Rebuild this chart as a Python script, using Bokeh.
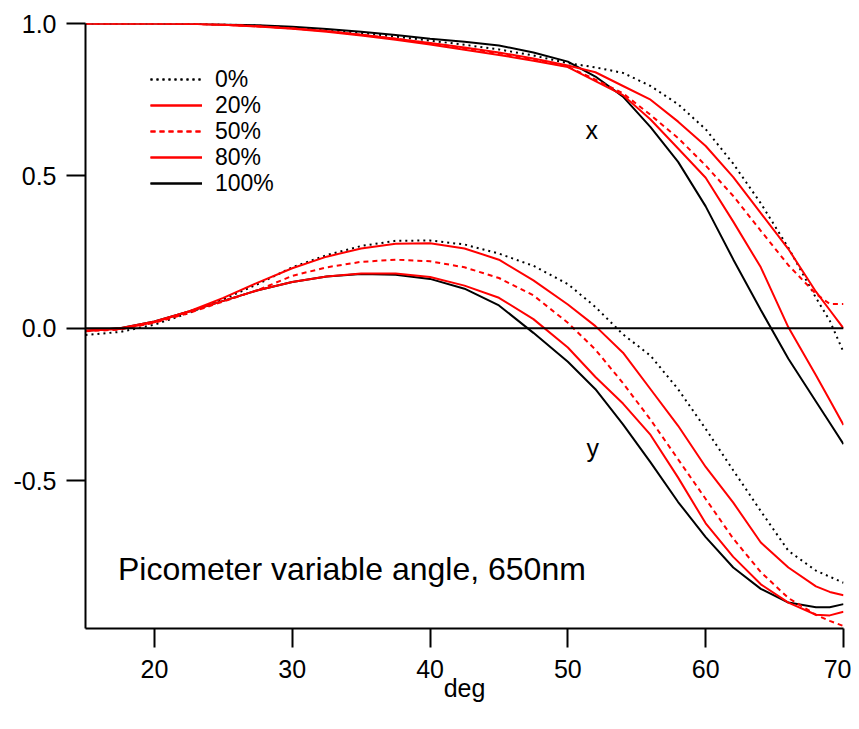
from bokeh.plotting import figure
from bokeh.models import Legend, LegendItem, Span, Label, FixedTicker, Range1d, PrintfTickFormatter
from bokeh.embed import file_html
from bokeh.resources import INLINE

# ---- data -------------------------------------------------------------
deg = [15, 17.5, 20, 22.5, 25, 27.5, 30, 32.5, 35, 37.5, 40, 42.5, 45, 47.5,
       50, 52, 54, 56, 58, 60, 62, 64, 66, 68, 69, 70]

labels = ["0%", "20%", "50%", "80%", "100%"]

# x component
x_0 = [1.0, 1.0, 1.0, 0.999, 0.997, 0.993, 0.987, 0.979, 0.969, 0.957, 0.944, 0.93, 0.915, 0.895,
       0.87, 0.856, 0.838, 0.795, 0.735, 0.653, 0.54, 0.41, 0.264, 0.10, 0.025, -0.078]
x_20 = [1.0, 1.0, 1.0, 0.999, 0.996, 0.991, 0.984, 0.975, 0.963, 0.95, 0.936, 0.921, 0.905, 0.885,
        0.862, 0.84, 0.795, 0.75, 0.678, 0.598, 0.496, 0.378, 0.26, 0.12, 0.06, 0.0]
x_50 = [1.0, 1.0, 1.0, 0.999, 0.996, 0.991, 0.984, 0.975, 0.963, 0.95, 0.935, 0.919, 0.902, 0.882,
        0.858, 0.816, 0.771, 0.70, 0.624, 0.534, 0.434, 0.32, 0.207, 0.113, 0.08, 0.08]
x_80 = [1.0, 1.0, 1.0, 0.999, 0.996, 0.99, 0.983, 0.973, 0.961, 0.947, 0.931, 0.914, 0.897, 0.878,
        0.857, 0.811, 0.765, 0.685, 0.59, 0.494, 0.35, 0.2, 0.003, -0.154, -0.235, -0.317]
x_100 = [1.0, 1.0, 1.0, 0.999, 0.997, 0.994, 0.989, 0.982, 0.973, 0.962, 0.95, 0.94, 0.928, 0.905,
         0.875, 0.826, 0.76, 0.66, 0.546, 0.40, 0.226, 0.06, -0.1, -0.24, -0.31, -0.38]

# y component
y_0 = [-0.022, -0.012, 0.012, 0.05, 0.095, 0.145, 0.2, 0.24, 0.27, 0.287, 0.288, 0.275, 0.245, 0.205,
       0.145, 0.07, -0.02, -0.09, -0.2, -0.33, -0.466, -0.6, -0.73, -0.795, -0.815, -0.835]
y_20 = [-0.008, -0.002, 0.02, 0.055, 0.1, 0.15, 0.197, 0.235, 0.262, 0.277, 0.279, 0.262, 0.225, 0.157,
        0.078, 0.007, -0.08, -0.2, -0.32, -0.455, -0.572, -0.703, -0.785, -0.847, -0.865, -0.876]
y_50 = [-0.01, -0.004, 0.018, 0.05, 0.088, 0.125, 0.172, 0.2, 0.218, 0.225, 0.22, 0.2, 0.165, 0.108,
        0.018, -0.07, -0.18, -0.3, -0.43, -0.56, -0.69, -0.8, -0.885, -0.94, -0.96, -0.977]
y_80 = [-0.008, 0.0, 0.022, 0.055, 0.09, 0.125, 0.152, 0.17, 0.18, 0.18, 0.168, 0.14, 0.1, 0.03,
        -0.063, -0.16, -0.247, -0.35, -0.49, -0.64, -0.75, -0.84, -0.9, -0.94, -0.942, -0.93]
y_100 = [-0.008, 0.0, 0.022, 0.055, 0.09, 0.125, 0.152, 0.17, 0.178, 0.176, 0.162, 0.13, 0.075, -0.015,
         -0.11, -0.2, -0.315, -0.44, -0.57, -0.685, -0.785, -0.855, -0.9, -0.915, -0.915, -0.905]

x_ticks = [20, 30, 40, 50, 60, 70]
y_ticks = [-0.5, 0.0, 0.5, 1.0]

# ---- figure -----------------------------------------------------------
FONT = "Liberation Sans"

p = figure(width=851, height=728, x_range=Range1d(15, 70), y_range=Range1d(-0.985, 1.0),
           output_backend="svg", toolbar_location=None,
           min_border_left=85, min_border_right=8, min_border_top=23, min_border_bottom=100)
p.xgrid.visible = False
p.ygrid.visible = False
p.outline_line_color = None

for ax in (p.xaxis[0], p.yaxis[0]):
    ax.axis_line_width = 2
    ax.axis_line_color = "black"
    ax.major_tick_line_width = 2
    ax.major_tick_line_color = "black"
    ax.major_tick_out = 19
    ax.major_tick_in = 0
    ax.minor_tick_out = 0
    ax.minor_tick_in = 0
    ax.major_label_text_font = FONT
    ax.major_label_text_font_size = "25px"
    ax.major_label_text_color = "black"

p.xaxis.ticker = FixedTicker(ticks=x_ticks)
p.yaxis.ticker = FixedTicker(ticks=y_ticks)
p.yaxis.formatter = PrintfTickFormatter(format="%.1f")
p.yaxis.major_label_standoff = 10
p.xaxis.major_label_standoff = 12
p.xaxis.axis_label = "deg"
p.xaxis.axis_label_text_font = FONT
p.xaxis.axis_label_text_font_size = "25px"
p.xaxis.axis_label_text_font_style = "normal"
p.xaxis.axis_label_text_color = "black"
p.xaxis.axis_label_standoff = -7

p.add_layout(Span(location=0, dimension="width", line_color="black", line_width=2))

styles = [
    dict(line_color="black", line_dash="2 4"),
    dict(line_color="#ff0000", line_dash="solid"),
    dict(line_color="#ff0000", line_dash="5 4"),
    dict(line_color="#ff0000", line_dash="solid"),
    dict(line_color="black", line_dash="solid"),
]
xs = [x_0, x_20, x_50, x_80, x_100]
ys = [y_0, y_20, y_50, y_80, y_100]

rends = {}
for i in [0, 4, 3, 2, 1]:
    rx = p.line(deg, xs[i], line_width=2, **styles[i])
    ry = p.line(deg, ys[i], line_width=2, **styles[i])
    rends[i] = [rx, ry]

# one single-row legend per entry, stacked
row_offsets = [534, 508, 482, 456, 430]
for i in range(5):
    lg = Legend(items=[LegendItem(label=labels[i], renderers=rends[i])],
                location=(65, row_offsets[i]), border_line_color=None,
                background_fill_alpha=0, padding=0, margin=0, spacing=0,
                glyph_width=52, glyph_height=30, label_height=30, label_standoff=13,
                label_text_font=FONT, label_text_font_size="23px", label_text_color="black")
    p.add_layout(lg)

p.add_layout(Label(x=51.74, y=0.65, text="x", text_font=FONT, text_font_size="25px",
                   text_align="center", text_baseline="alphabetic", text_color="black"))
p.add_layout(Label(x=51.8, y=-0.392, text="y", text_font=FONT, text_font_size="25px",
                   text_align="center", text_baseline="alphabetic", text_color="black"))
p.add_layout(Label(x=17.36, y=-0.789, text="Picometer variable angle, 650nm", text_font=FONT,
                   text_font_size="32px", text_align="left", text_baseline="alphabetic",
                   text_color="black"))

open("out.html", "w").write(file_html(p, INLINE))
